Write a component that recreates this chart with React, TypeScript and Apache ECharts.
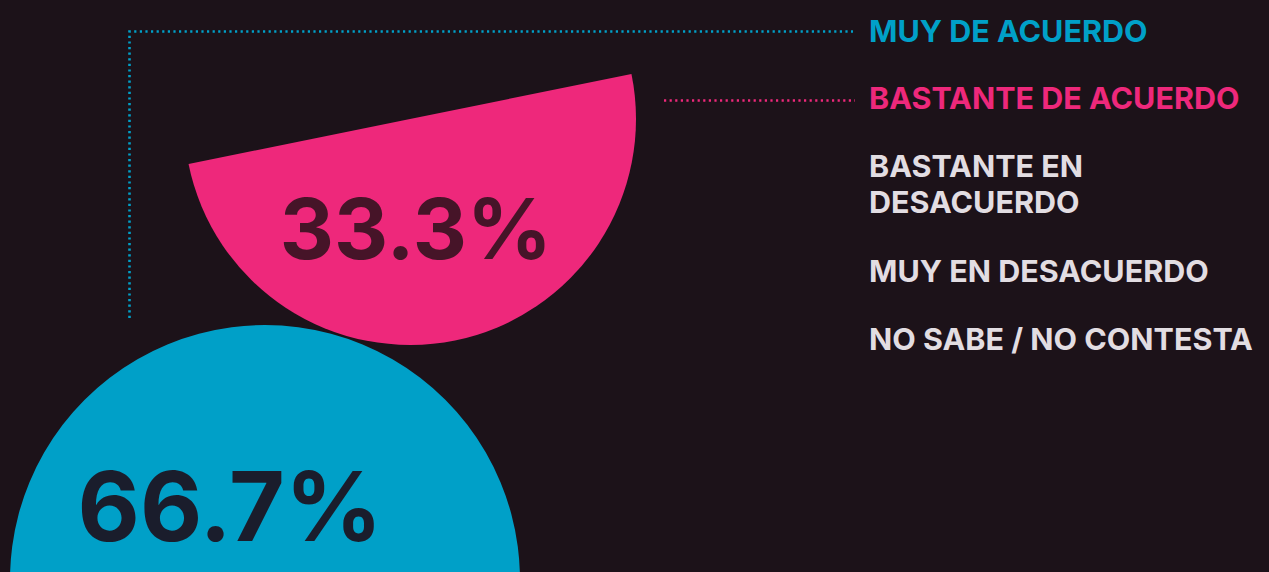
import React, { useEffect, useRef } from "react";
import * as echarts from "echarts";

const categories = [
  "MUY DE ACUERDO",
  "BASTANTE DE ACUERDO",
  "BASTANTE EN\nDESACUERDO",
  "MUY EN DESACUERDO",
  "NO SABE / NO CONTESTA",
];
const values = [66.7, 33.3, 0, 0, 0];
const colors = ["#00a0c8", "#ee287b", "#e2dde2", "#e2dde2", "#e2dde2"];
const labelColors = ["#1a1d2c", "#461428"];

const BG = "#1c1219";
const FONT = "Inter, Lato, 'Noto Sans', sans-serif";

export default function App() {
  const ref = useRef<HTMLDivElement>(null);
  useEffect(() => {
    document.body.style.margin = "0";
    const chart = echarts.init(ref.current!, null, { renderer: "svg" });
    const legendY = [30, 97, 183, 270, 338];
    const graphics: any[] = [];
    categories.forEach((c, i) => {
      graphics.push({
        type: "text",
        x: 869,
        y: legendY[i],
        style: {
          text: c,
          fill: colors[i],
          font: `bold 30.5px ${FONT}`,
          lineHeight: 36,
          verticalAlign: "middle",
        },
      });
    });
    graphics.push({
      type: "polyline",
      shape: { points: [[129.5, 318], [129.5, 31.5], [853, 31.5]] },
      style: { stroke: colors[0], lineWidth: 2.6, lineDash: [2.2, 3.4], fill: null },
    });
    graphics.push({
      type: "line",
      shape: { x1: 664, y1: 100.5, x2: 855, y2: 100.5 },
      style: { stroke: colors[1], lineWidth: 2.6, lineDash: [2.2, 3.4] },
    });
    graphics.push({
      type: "text",
      x: 230,
      y: 506,
      style: {
        text: values[0].toFixed(1) + "%",
        fill: labelColors[0],
        font: `bold 96px ${FONT}`,
        align: "center",
        verticalAlign: "middle",
      },
      z: 10,
    });
    graphics.push({
      type: "text",
      x: 416,
      y: 228,
      style: {
        text: values[1].toFixed(1) + "%",
        fill: labelColors[1],
        font: `bold 84px ${FONT}`,
        align: "center",
        verticalAlign: "middle",
      },
      z: 10,
    });

    chart.setOption({
      animation: false,
      backgroundColor: BG,
      series: [
        {
          type: "pie",
          center: [265, 580],
          radius: [0, 255],
          startAngle: 90,
          silent: true,
          label: { show: false },
          labelLine: { show: false },
          data: [{ name: categories[0], value: values[0], itemStyle: { color: colors[0] } }],
        },
        {
          type: "pie",
          center: [410, 119],
          radius: [0, 226],
          startAngle: 11.5,
          silent: true,
          label: { show: false },
          labelLine: { show: false },
          data: [
            { name: categories[1], value: values[1], itemStyle: { color: colors[1] } },
            { name: "", value: values[1], itemStyle: { color: "transparent" } },
          ],
        },
      ],
      graphic: graphics,
    });
    return () => chart.dispose();
  }, []);
  return <div ref={ref} style={{ width: 1269, height: 572 }} />;
}
